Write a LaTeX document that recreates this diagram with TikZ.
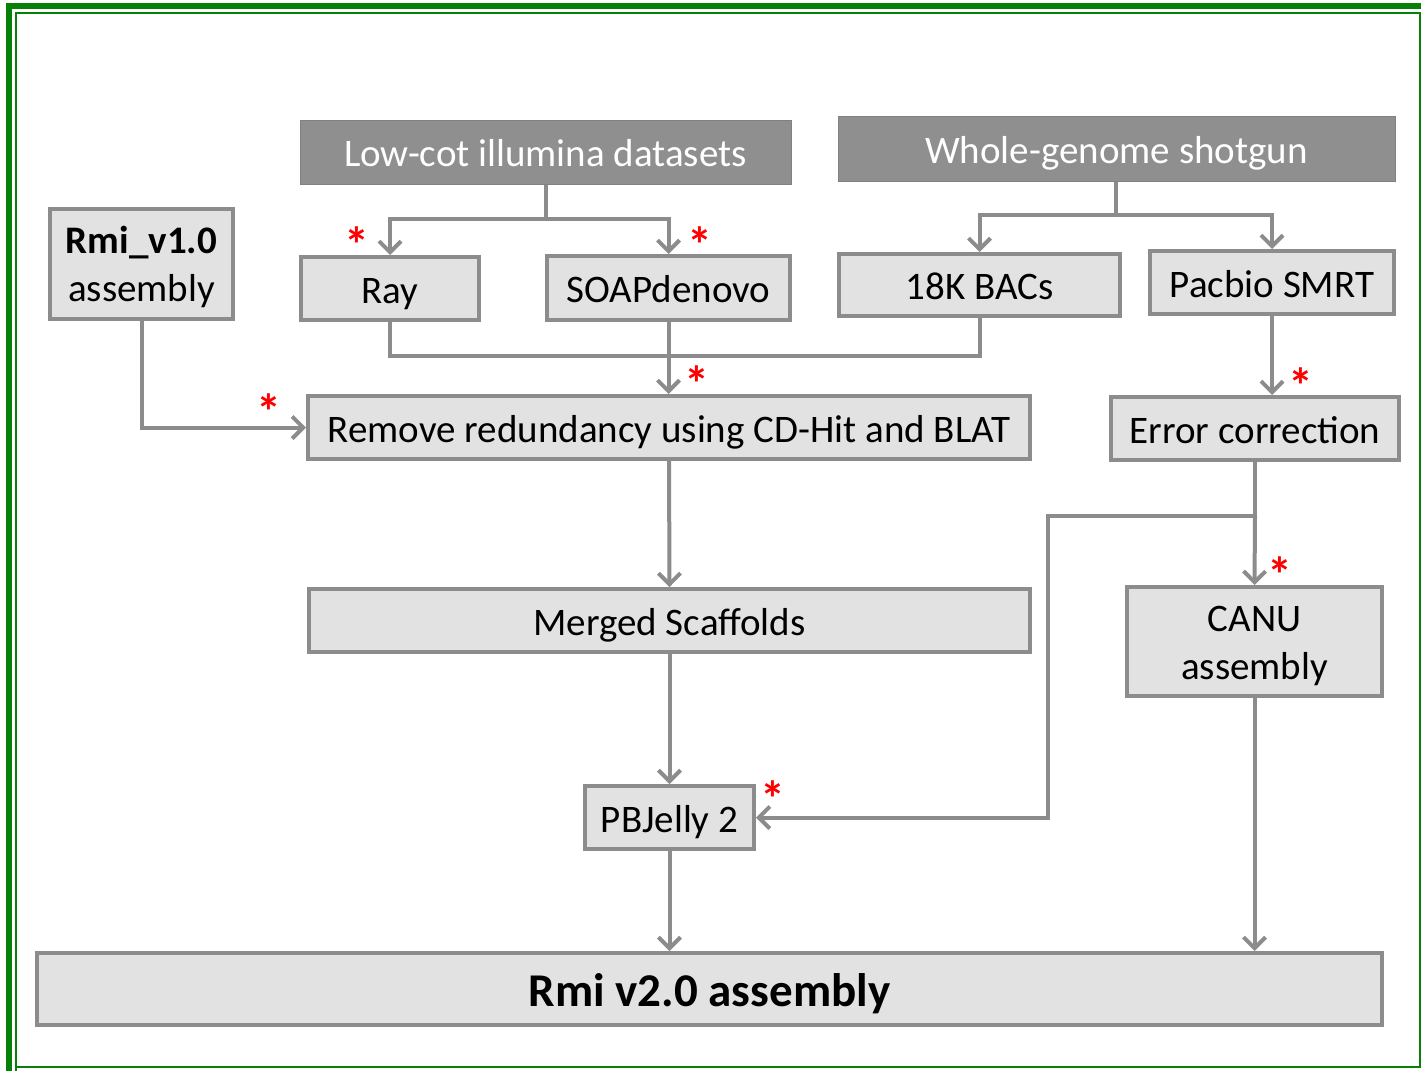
\documentclass[tikz,border=0pt]{standalone}
\usepackage{fontspec}
\setmainfont{Carlito}
\usetikzlibrary{arrows.meta}
\definecolor{framegreen}{HTML}{078007}
\definecolor{linegray}{HTML}{8C8C8C}
\definecolor{boxfill}{HTML}{E2E2E2}
\definecolor{headfill}{HTML}{8F8F8F}
\tikzset{
  box/.style={draw=linegray, line width=4pt, fill=boxfill, inner sep=0pt,
    text height=36pt, text depth=7pt,
    font=\fontsize{39}{48}\selectfont, align=center},
  twoline/.style={text height=84pt, text depth=9pt},
  headbox/.style={draw=headfill!90!black, line width=1pt, fill=headfill, inner sep=0pt,
    text height=36pt, text depth=7pt,
    text=white, font=\fontsize{39}{45}\selectfont},
  link/.style={draw=linegray, line width=4pt},
  flow/.style={link, -{Straight Barb[length=11pt,width=22pt,line width=4pt]}},
  star/.style={text=red, font=\bfseries\fontsize{50}{50}\selectfont, inner sep=0pt,
    text height=12pt, text depth=0pt}
}
\begin{document}
\begin{tikzpicture}[x=1pt,y=-1pt]
\useasboundingbox (0,0) rectangle (1421,1071);
% page frame
\draw[framegreen, line width=6pt] (9,1071) -- (9,6) -- (1421,6);
\draw[framegreen, line width=2pt] (16,1071) -- (16,13) -- (1421,13);
\draw[framegreen, line width=1.5pt] (16,1067) -- (1420,1067) -- (1420,13);

% header boxes
\node[headbox, minimum width=491pt, minimum height=64pt] (low) at (545.5,152) {Low-cot illumina datasets};
\node[headbox, minimum width=557pt, minimum height=65pt] (wgs) at (1116.5,148.5) {Whole-genome shotgun};

% process boxes
\node[box, twoline, minimum width=183pt, minimum height=110pt] (rmi1) at (141.5,264) {\textbf{Rmi\_v1.0}\\assembly};
\node[box, minimum width=178pt, minimum height=63pt] (ray) at (390,288.5) {Ray};
\node[box, minimum width=243pt, minimum height=64pt] (soap) at (668.5,288) {SOAPdenovo};
\node[box, minimum width=281pt, minimum height=62pt] (bacs) at (979.5,285) {18K BACs};
\node[box, minimum width=244pt, minimum height=63pt] (pacbio) at (1272,282.5) {Pacbio SMRT};
\node[box, minimum width=722pt, minimum height=63pt] (remove) at (669,427.5) {Remove redundancy using CD-Hit and BLAT};
\node[box, minimum width=288pt, minimum height=63pt] (errcor) at (1255,428.5) {Error correction};
\node[box, minimum width=721pt, minimum height=63pt] (merged) at (669.5,620.5) {Merged Scaffolds};
\node[box, twoline, minimum width=255pt, minimum height=109pt] (canu) at (1254.5,641.5) {CANU\\assembly};
\node[box, minimum width=169pt, minimum height=63pt] (pbj) at (669.5,817.5) {PBJelly 2};
\node[box, minimum width=1345pt, minimum height=72pt, text height=42pt, text depth=8pt,
  font=\bfseries\fontsize{47}{52}\selectfont] (rmi2) at (709.5,989) {Rmi v2.0 assembly};

% junction points
\coordinate (lowj) at (546,219);
\coordinate (wgsj) at (1116,215);
\coordinate (mergej) at (668,356);
\coordinate (errj) at (1255,516);

% fan-out from the headers
\draw[link] (low.south -| lowj) -- (lowj);
\draw[flow] (lowj) -| (ray.north);
\draw[flow] (lowj) -| (soap.north);
\draw[link] (wgs.south -| wgsj) -- (wgsj);
\draw[flow] (wgsj) -| (bacs.north);
\draw[flow] (wgsj) -| (pacbio.north);

% assemblies merged into redundancy removal
\draw[link] (ray.south) |- (mergej);
\draw[link] (bacs.south) |- (mergej);
\draw[flow] (soap.south) -- (soap.south |- remove.north);
\draw[flow] (rmi1.south) |- (remove.west);

% PacBio branch
\draw[flow] (pacbio.south) -- (pacbio.south |- errcor.north);
\draw[link] (errcor.south) -- (errj);
\draw[flow] (errj) -- (canu.north);
\draw[flow] (errj) -- (1048,516) |- (pbj.east);

% main trunk
\draw[flow] (remove.south) -- (merged.north);
\draw[flow] (merged.south) -- (pbj.north);
\draw[flow] (pbj.south) -- (pbj.south |- rmi2.north);
\draw[flow] (canu.south) -- (canu.south |- rmi2.north);

% markers
\node[star] (s1) at (357,256) {*};
\node[star] (s2) at (700,256) {*};
\node[star] (s3) at (697,395) {*};
\node[star] (s4) at (269,423) {*};
\node[star] (s5) at (1301,397) {*};
\node[star] (s6) at (1280,586) {*};
\node[star] (s7) at (773,810) {*};
\end{tikzpicture}
\end{document}
